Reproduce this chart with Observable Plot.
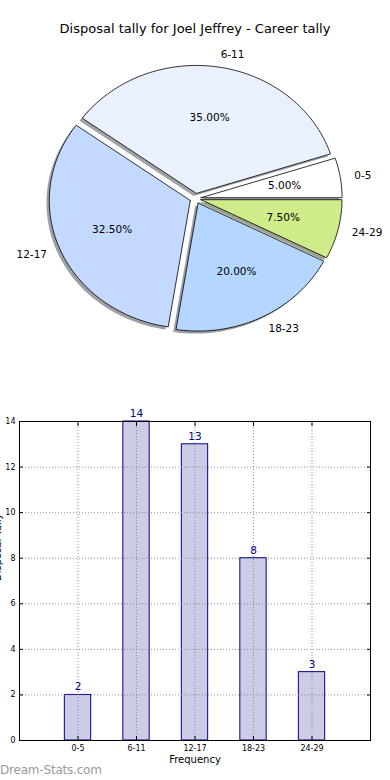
<!DOCTYPE html>
<html>
<head>
<meta charset="utf-8">
<script src="https://cdn.jsdelivr.net/npm/d3@7"></script>
<script src="https://cdn.jsdelivr.net/npm/@observablehq/plot@0.6"></script>
<style>
  html, body { margin: 0; padding: 0; background: #fff; }
  #wrap { position: relative; width: 390px; height: 780px; overflow: hidden; font-family: "DejaVu Sans", sans-serif; }
  #title { position: absolute; top: 21px; left: 0; width: 390px; text-align: center; font-size: 13px; color: #000; }
  #pie { position: absolute; top: 0; left: 0; }
  #bars { position: absolute; top: 400px; left: 0; }
  #mark { position: absolute; left: 0; top: 763px; font-size: 12px; font-weight: normal; color: #9a9a9a; letter-spacing: -0.2px; }
  svg { display: block; }
</style>
</head>
<body>
<div id="wrap">
  <div id="pie"></div>
  <div id="title">Disposal tally for Joel Jeffrey - Career tally</div>
  <div id="bars"></div>
  <div id="mark">Dream-Stats.com</div>
</div>
<script>
// ---- data ----
const categories = ["0-5", "6-11", "12-17", "18-23", "24-29"];
const tallies = [2, 14, 13, 8, 3];
const yTicks = [0, 2, 4, 6, 8, 10, 12, 14];
const chartTitle = "Disposal tally for Joel Jeffrey - Career tally";
const xLabel = "Frequency";
const yLabel = "Disposal Tally";

// ---- styles ----
const sliceColors = ["#ffffff", "#eaf1fe", "#c4d9ff", "#b4d6ff", "#cfeb8a"];
const explode = 0.04;
const shadowOffset = 0.02;

// ---- pie geometry from data ----
const total = d3.sum(tallies);
let acc = 0;
const slices = categories.map((c, i) => {
  const a0 = acc / total * 2 * Math.PI;
  acc += tallies[i];
  const a1 = acc / total * 2 * Math.PI;
  const mid = (a0 + a1) / 2;
  const ox = explode * Math.cos(mid), oy = explode * Math.sin(mid);
  const n = Math.max(6, Math.ceil((a1 - a0) / (2 * Math.PI) * 240));
  const pts = [{x: ox, y: oy}];
  for (let k = 0; k <= n; k++) {
    const a = a0 + (a1 - a0) * k / n;
    pts.push({x: ox + Math.cos(a), y: oy + Math.sin(a)});
  }
  pts.push({x: ox, y: oy});
  const shadow = pts.map(p => ({x: p.x - shadowOffset, y: p.y - shadowOffset}));
  const base = d3.rgb(sliceColors[i]);
  const shadowColor = d3.rgb(base.r * 0.3, base.g * 0.3, base.b * 0.3).formatHex();
  return {
    label: c, pct: (tallies[i] / total * 100).toFixed(2) + "%",
    pts, shadow, color: sliceColors[i], shadowColor,
    lx: ox + 1.1 * Math.cos(mid), ly: oy + 1.1 * Math.sin(mid),
    px: ox + 0.6 * Math.cos(mid), py: oy + 0.6 * Math.sin(mid),
    right: Math.cos(mid) > 0
  };
});

const pieMarks = [];
slices.forEach(s => pieMarks.push(Plot.line(s.shadow, {x: "x", y: "y", fill: s.shadowColor, fillOpacity: 0.5, stroke: "none"})));
slices.forEach(s => pieMarks.push(Plot.line(s.pts, {x: "x", y: "y", fill: s.color, stroke: "#000", strokeWidth: 0.8, strokeLinejoin: "miter"})));
pieMarks.push(Plot.text(slices.filter(s => s.right), {x: "lx", y: "ly", text: "label", textAnchor: "start", fontSize: 10.5, fill: "#000"}));
pieMarks.push(Plot.text(slices.filter(s => !s.right), {x: "lx", y: "ly", text: "label", textAnchor: "end", fontSize: 10.5, fill: "#000"}));
pieMarks.push(Plot.text(slices, {x: "px", y: "py", text: "pct", fontSize: 10.5, fill: "#000"}));

const pie = Plot.plot({
  width: 390, height: 395, margin: 0,
  style: {fontFamily: "DejaVu Sans", background: "transparent"},
  x: {domain: [-1, 1], range: [54, 336], axis: null},
  y: {domain: [-1, 1], range: [326, 70], axis: null},
  marks: pieMarks
});
document.getElementById("pie").appendChild(pie);
document.getElementById("title").textContent = chartTitle;

// ---- bar chart ----
const idx = categories.map((c, i) => i);
const gridStyle = {stroke: "#777", strokeOpacity: 0.8, strokeDasharray: "1,2", strokeWidth: 1};
const bars = Plot.plot({
  width: 390, height: 380,
  marginTop: 21, marginBottom: 40, marginLeft: 19, marginRight: 20,
  style: {fontFamily: "DejaVu Sans", fontSize: "8px", background: "transparent"},
  x: {type: "linear", domain: [-1, categories.length]},
  y: {domain: [0, 14]},
  marks: [
    Plot.rectY(idx, {x1: i => i - 0.225, x2: i => i + 0.225, y1: 0, y2: i => tallies[i], fill: "#000080", fillOpacity: 0.2, stroke: "#00008b", strokeWidth: 1}),
    Plot.gridY({ticks: yTicks.slice(1, -1), ...gridStyle}),
    Plot.gridX({ticks: idx, ...gridStyle}),
    Plot.frame({stroke: "#000", strokeWidth: 1}),
    Plot.axisY({ticks: yTicks, tickSize: 0, tickPadding: 4, tickFormat: d => d, fontSize: 8}),
    Plot.axisY({ticks: yTicks, anchor: "left", tickSize: 4, dx: 4, fill: "none"}),
    Plot.axisY({ticks: yTicks, anchor: "right", tickSize: 4, dx: -4, fill: "none", label: null}),
    Plot.axisX({ticks: idx, tickSize: 0, tickPadding: 5, tickFormat: i => categories[i], fontSize: 8, label: null}),
    Plot.axisX({ticks: idx, anchor: "bottom", tickSize: 4, dy: -4, fill: "none", label: null}),
    Plot.axisX({ticks: idx, anchor: "top", tickSize: 4, dy: 4, fill: "none", label: null}),
    Plot.text(idx, {x: i => i, y: i => tallies[i], text: i => String(tallies[i]), dy: -8, fill: "#000080", fontSize: 10.5}),
    Plot.text([xLabel], {frameAnchor: "bottom", dy: 22, fontSize: 10, fill: "#000"}),
    Plot.text([yLabel], {frameAnchor: "left", dx: -22, rotate: -90, fontSize: 10, fill: "#000"})
  ]
});
document.getElementById("bars").appendChild(bars);
</script>
</body>
</html>
